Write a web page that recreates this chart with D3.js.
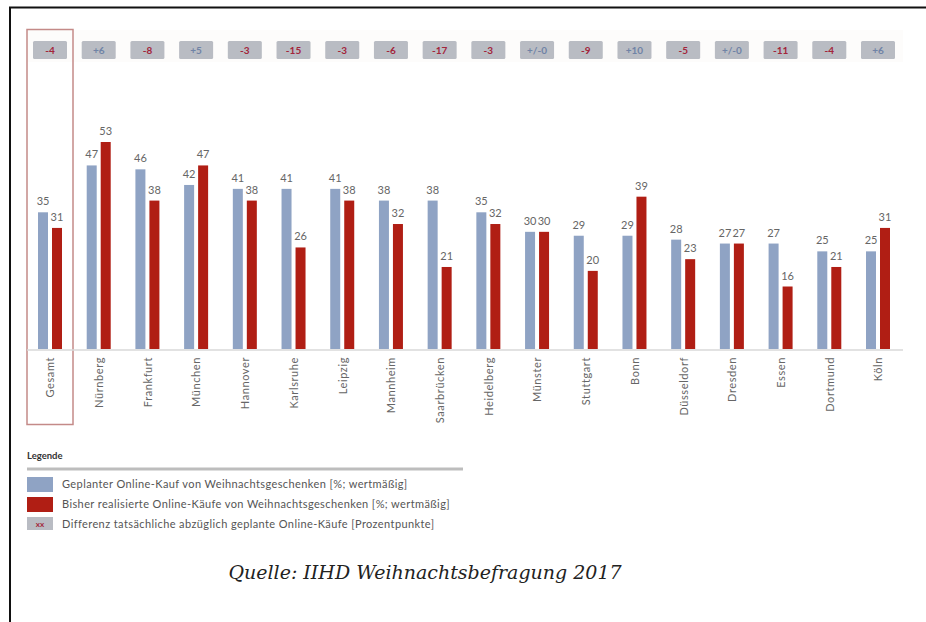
<!DOCTYPE html>
<html>
<head>
<meta charset="utf-8">
<script src="https://cdn.jsdelivr.net/npm/d3@7"></script>
<style>
  body { margin: 0; background: #fff; }
  svg { display: block; }
  text { font-family: Lato, "Open Sans", sans-serif; }
</style>
</head>
<body>
<svg id="chart" width="926" height="622"></svg>
<script>
// data
const cities = ["Gesamt","Nürnberg","Frankfurt","München","Hannover","Karlsruhe","Leipzig","Mannheim",
  "Saarbrücken","Heidelberg","Münster","Stuttgart","Bonn","Düsseldorf","Dresden","Essen","Dortmund","Köln"];
const planned = [35,47,46,42,41,41,41,38,38,35,30,29,29,28,27,27,25,25];
const realized = [31,53,38,47,38,26,38,32,21,32,30,20,39,23,27,16,21,31];
const diffLabels = ["-4","+6","-8","+5","-3","-15","-3","-6","-17","-3","+/-0","-9","+10","-5","+/-0","-11","-4","+6"];
const legendItems = [
  "Geplanter Online-Kauf von Weihnachtsgeschenken [%; wertmäßig]",
  "Bisher realisierte Online-Käufe von Weihnachtsgeschenken [%; wertmäßig]",
  "Differenz tatsächliche abzüglich geplante Online-Käufe [Prozentpunkte]"
];

const blue = "#8fa3c4", red = "#b01e14", boxGrey = "#b9bcc3";
const svg = d3.select("#chart");

// frame (top and left edge of the screenshot)
svg.append("line").attr("x1",9).attr("x2",926).attr("y1",7.5).attr("y2",7.5)
  .attr("stroke","#111").attr("stroke-width",2);
svg.append("line").attr("x1",10).attr("x2",10).attr("y1",7).attr("y2",622)
  .attr("stroke","#111").attr("stroke-width",2);

const x = d3.scalePoint().domain(cities).range([50,878]);
const xs = d3.scaleBand().domain(["plan","real"]).range([-12,12]).paddingInner(2-24/14);
const y = d3.scaleLinear().domain([0,53]).range([349,142]);

// pale band behind difference boxes
svg.append("rect").attr("x",27).attr("y",30).attr("width",876).attr("height",32).attr("fill","#fdfcfb");

// Gesamt highlight frame
svg.append("rect").attr("x",27).attr("y",29.5).attr("width",46).attr("height",395)
  .attr("fill","none").attr("stroke","#c48a88").attr("stroke-width",1.5);

// baseline
svg.append("line").attr("x1",27).attr("x2",903).attr("y1",y(0)+1).attr("y2",y(0)+1)
  .attr("stroke","#d9d9d9").attr("stroke-width",1.5);

const rows = cities.map((c,i)=>({c, plan:planned[i], real:realized[i], diff:diffLabels[i]}));
const g = svg.append("g");
const grp = g.selectAll("g.cat").data(rows).enter().append("g").attr("class","cat")
  .attr("transform",d=>"translate("+x(d.c)+",0)");

[["plan",blue],["real",red]].forEach(([key,col])=>{
  grp.append("rect")
    .attr("x",xs(key)).attr("width",xs.bandwidth())
    .attr("y",d=>y(d[key])).attr("height",d=>y(0)-y(d[key]))
    .attr("fill",col);
  grp.append("text")
    .attr("x",xs(key)+xs.bandwidth()/2).attr("y",d=>y(d[key])-7)
    .attr("text-anchor","middle").attr("font-size",11).attr("fill","#666")
    .text(d=>d[key]);
});

// difference boxes
grp.append("rect").attr("x",-17).attr("y",41).attr("width",34).attr("height",18).attr("rx",1.5)
  .attr("fill",boxGrey);
grp.append("text").attr("x",0).attr("y",54).attr("text-anchor","middle")
  .attr("font-size",10).attr("font-weight","bold")
  .attr("fill",d=>d.diff.startsWith("-") ? "#a3253a" : "#7083a6")
  .text(d=>d.diff);

// category labels
const ax = svg.append("g").attr("transform","translate(0,"+(y(0)+8)+")")
  .call(d3.axisBottom(x).tickSize(0));
ax.select(".domain").remove();
ax.selectAll("text")
  .attr("transform","rotate(-90)")
  .attr("text-anchor","end")
  .attr("x",0).attr("y",0).attr("dx",0).attr("dy","0.35em")
  .attr("font-size",11).attr("fill","#666")
  .attr("letter-spacing",0.6)
  .style("font-family","Lato, sans-serif");

// legend
const lg = svg.append("g");
lg.append("text").attr("x",27).attr("y",459).attr("font-size",9.5).attr("font-weight","bold")
  .attr("fill","#333").text("Legende");
lg.append("line").attr("x1",27).attr("x2",463).attr("y1",469).attr("y2",469)
  .attr("stroke","#bdbdbd").attr("stroke-width",3);
const swatches = [blue, red, boxGrey];
legendItems.forEach((t,i)=>{
  const yy = 477 + i*20;
  lg.append("rect").attr("x",27).attr("y",yy).attr("width",26).attr("height",i==2?13:15)
    .attr("fill",swatches[i]);
  if(i==2) lg.append("text").attr("x",40).attr("y",yy+10).attr("text-anchor","middle")
    .attr("font-size",8).attr("font-weight","bold").attr("fill","#a3253a").text("xx");
  lg.append("text").attr("x",62).attr("y",yy+11).attr("font-size",11).attr("letter-spacing",0.4)
    .attr("fill","#555").text(t);
});

// source
svg.append("text").attr("x",425).attr("y",579).attr("text-anchor","middle")
  .attr("font-size",19).attr("font-style","italic").attr("fill","#222")
  .style("font-family","'DejaVu Serif', serif")
  .text("Quelle: IIHD Weihnachtsbefragung 2017");
</script>
</body>
</html>
